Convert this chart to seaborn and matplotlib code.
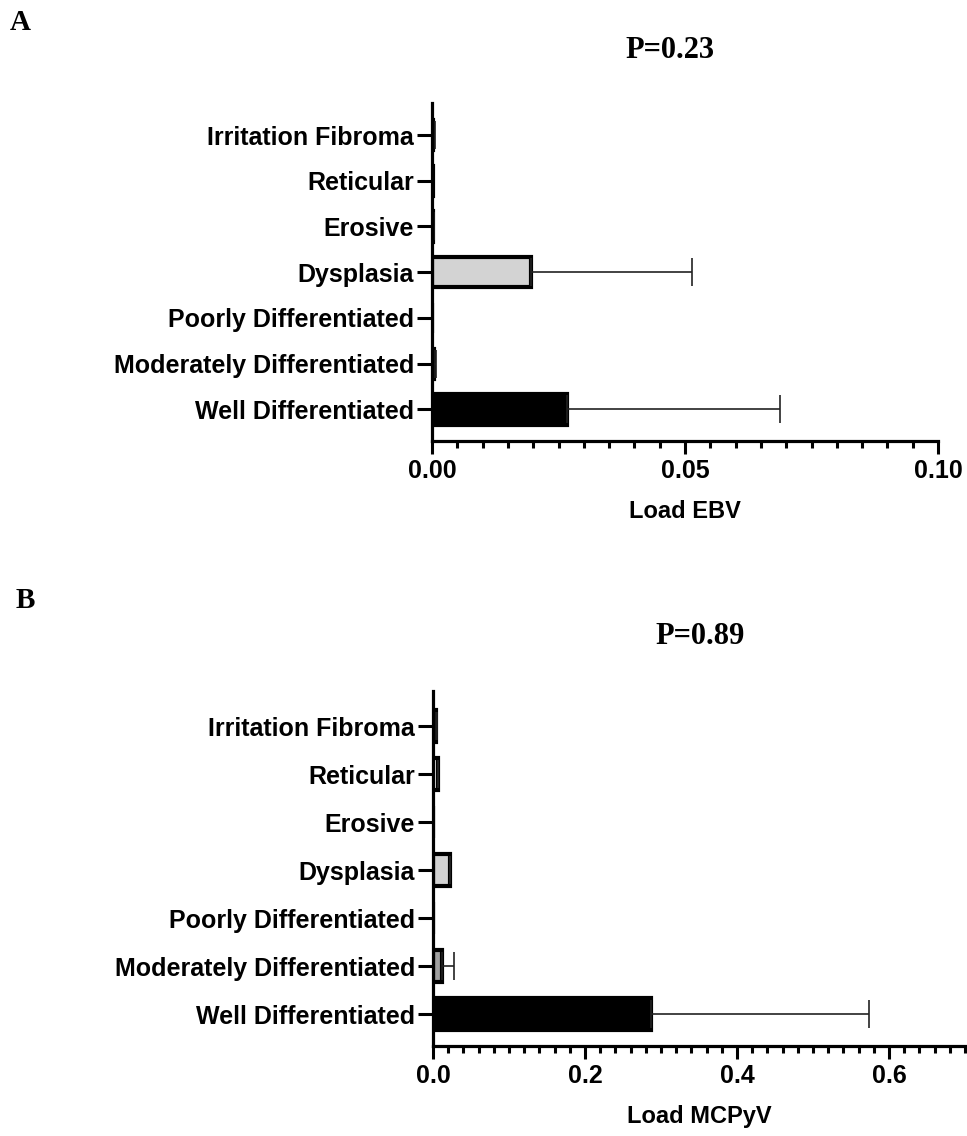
import numpy as np
import pandas as pd
import matplotlib
matplotlib.use("Agg")
import matplotlib.pyplot as plt
from matplotlib.ticker import MultipleLocator, FormatStrFormatter
import seaborn as sns

# categories, listed top to bottom
groups = ["Irritation Fibroma", "Reticular", "Erosive", "Dysplasia",
          "Poorly Differentiated", "Moderately Differentiated", "Well Differentiated"]
bar_colors = ["#ffffff", "#ffffff", "#ffffff", "#d3d3d3", "#ffffff", "#a0a0a0", "#000000"]

# panel A - EBV load (mean, SD)
ebv_mean = [0.0002, 0.0001, 0.0002, 0.0195, 0.0, 0.0004, 0.0267]
ebv_sd = [0.0003, 0.0, 0.0001, 0.0319, 0.0, 0.0003, 0.0421]

# panel B - MCPyV load (mean, SD)
mcpyv_mean = [0.004, 0.006, 0.0, 0.022, 0.0, 0.012, 0.287]
mcpyv_sd = [0.001, 0.001, 0.0, 0.0, 0.0, 0.015, 0.287]

sns.set_style("ticks")
plt.rcParams["font.family"] = ["Liberation Sans", "DejaVu Sans"]
plt.rcParams["font.weight"] = "bold"
# pure black ink like the original
for key in ["text.color", "axes.edgecolor", "axes.labelcolor", "xtick.color", "ytick.color"]:
    plt.rcParams[key] = "black"

fig = plt.figure(figsize=(9.67, 11.36), dpi=100)
W, H = 967, 1136


def px_axes(left, right, top, bottom):
    return fig.add_axes([left / W, 1 - bottom / H, (right - left) / W, (bottom - top) / H])


def draw_panel(ax, means, sds, xmax, major, minor, fmt, xlabel, ytop, ybot):
    df = pd.DataFrame({"group": groups, "load": means})
    sns.barplot(data=df, x="load", y="group", hue="group", palette=bar_colors,
                order=groups, hue_order=groups, legend=False, width=0.66,
                edgecolor="black", linewidth=3, ax=ax)
    pos = np.arange(len(groups))
    ax.errorbar(means, pos, xerr=[np.zeros(len(sds)), sds], fmt="none",
                ecolor="#222222", elinewidth=1.2, capsize=10, capthick=1.2, zorder=1)
    ax.set_xlim(0, xmax)
    ax.set_ylim(ybot, ytop)
    ax.xaxis.set_major_locator(MultipleLocator(major))
    ax.xaxis.set_minor_locator(MultipleLocator(minor))
    ax.xaxis.set_major_formatter(FormatStrFormatter(fmt))
    ax.set_ylabel("")
    ax.set_xlabel(xlabel, fontsize=17, fontweight="bold", labelpad=12)
    sns.despine(ax=ax)
    for s in ["left", "bottom"]:
        ax.spines[s].set_linewidth(2.3)
        ax.spines[s].set_color("black")
    ax.tick_params(axis="x", which="major", length=9, width=2.2, labelsize=18, pad=4)
    ax.tick_params(axis="x", which="minor", length=5, width=2.2)
    ax.tick_params(axis="y", length=11, width=2.2, labelsize=18, pad=2)
    for t in ax.get_xticklabels() + ax.get_yticklabels():
        t.set_fontweight("bold")


axA = px_axes(432, 938, 103, 441)
draw_panel(axA, ebv_mean, ebv_sd, 0.10, 0.05, 0.005, "%.2f", "Load EBV", -0.70, 6.69)

axB = px_axes(433, 433 + 0.7 * 760, 691, 1046)
draw_panel(axB, mcpyv_mean, mcpyv_sd, 0.70, 0.2, 0.02, "%.1f", "Load MCPyV", -0.73, 6.66)

serif = ["Liberation Serif", "DejaVu Serif"]
fig.text(20 / W, 1 - 22 / H, "A", family=serif, fontsize=21, fontweight="bold", ha="center", va="center")
fig.text(25 / W, 1 - 600 / H, "B", family=serif, fontsize=21, fontweight="bold", ha="center", va="center")
fig.text(670 / W, 1 - 50 / H, "P=0.23", family=serif, fontsize=22, fontweight="bold", ha="center", va="center")
fig.text(700 / W, 1 - 637 / H, "P=0.89", family=serif, fontsize=22, fontweight="bold", ha="center", va="center")

fig.savefig("out.png", dpi=100)
